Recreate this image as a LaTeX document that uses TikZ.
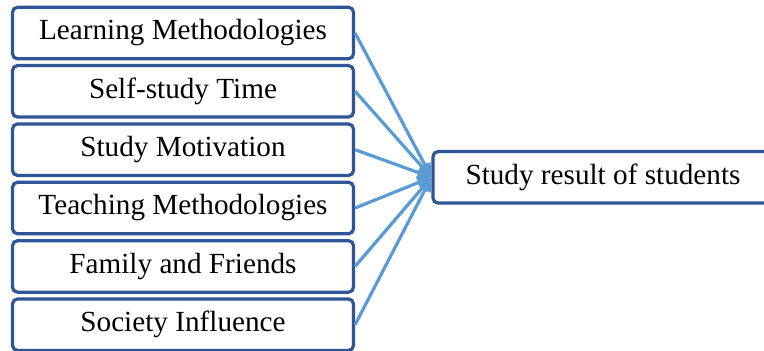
\documentclass[tikz,border=0pt]{standalone}
\usepackage{fontspec}
\setmainfont{Liberation Serif}
\usetikzlibrary{arrows.meta}
\definecolor{boxblue}{RGB}{47,85,151}
\definecolor{arrowblue}{RGB}{91,155,213}
\newcommand{\factorbox}[4][]{\node[factor,#1] at (#2) (#3) {#4}}

\begin{document}
\begin{tikzpicture}[x=0.5pt,y=-0.5pt,
	factor/.style={draw=boxblue,line width=1.6pt,rounded corners=2.5pt,fill=white,
		minimum width=170.5pt,minimum height=25.75pt,inner sep=0pt,
		font=\fontsize{14.6}{17}\selectfont},
	link/.style={draw=arrowblue,line width=1.6pt,-{Triangle[length=7pt,width=6pt]}}]
			\useasboundingbox (0,0) rectangle (764,350);
			\clip (0,0) rectangle (764,350);
			
			\factorbox{183,33}{lm}{Learning Methodologies};
			\factorbox{183,91.3}{st}{Self-study Time};
			\factorbox{183,149.7}{sm}{Study Motivation};
			\factorbox{183,208}{tm}{Teaching Methodologies};
			\factorbox{183,266.4}{ff}{Family and Friends};
			\factorbox{183,324.7}{si}{Society Influence};
			
			\factorbox[minimum width=170pt]{603,177.3}{res}{Study result of students};
			
			\draw[link] (lm.east) -- (res.west);
			\draw[link] (st.east) -- (res.west);
			\draw[link] (sm.east) -- (res.west);
			\draw[link] (tm.east) -- (res.west);
			\draw[link] (ff.east) -- (res.west);
			\draw[link] (si.east) -- (res.west);
			
\end{tikzpicture}
\end{document}
